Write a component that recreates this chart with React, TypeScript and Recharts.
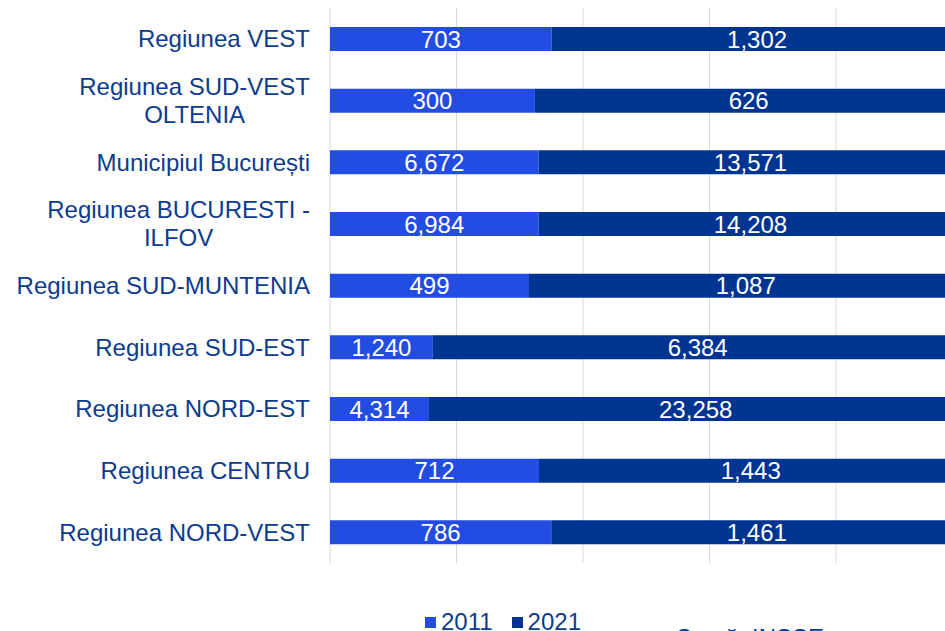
import { Bar, BarChart, CartesianGrid, LabelList, XAxis, YAxis } from "recharts";

const regions = [
  "Regiunea VEST",
  "Regiunea SUD-VEST\nOLTENIA",
  "Municipiul București",
  "Regiunea BUCURESTI -\nILFOV",
  "Regiunea SUD-MUNTENIA",
  "Regiunea SUD-EST",
  "Regiunea NORD-EST",
  "Regiunea CENTRU",
  "Regiunea NORD-VEST",
];
const values2011 = [703, 300, 6672, 6984, 499, 1240, 4314, 712, 786];
const values2021 = [1302, 626, 13571, 14208, 1087, 6384, 23258, 1443, 1461];
const shareTicks = [0, 0.2, 0.4, 0.6, 0.8, 1];

const data = regions.map((name, i) => ({ name, y2011: values2011[i], y2021: values2021[i] }));

const LIGHT = "#234CE2";
const DARK = "#003491";
const TEXT = "#0D3B8E";
const FONT = "'Liberation Sans', Arial, sans-serif";
const FS = 24;

const fmt = (v: any) => Number(v).toLocaleString("en-US");

let ctx: CanvasRenderingContext2D | null = null;
function textWidth(s: string) {
  if (!ctx) ctx = document.createElement("canvas").getContext("2d");
  if (!ctx) return s.length * FS * 0.55;
  ctx.font = `${FS}px ${FONT}`;
  return ctx.measureText(s).width;
}

// multi-line labels: block right-aligned, lines centred within the block
function RegionTick({ x, y, payload }: any) {
  const lines = String(payload.value).split("\n");
  const right = x - 12;
  const lh = 28;
  const start = -((lines.length - 1) * lh) / 2;
  const widest = Math.max(...lines.map(textWidth));
  const mid = right - widest / 2;
  return (
    <text fill={TEXT} fontSize={FS} fontFamily={FONT}>
      {lines.map((l, i) => (
        <tspan
          key={i}
          x={lines.length > 1 ? mid : right}
          y={y + start + i * lh}
          dy="0.36em"
          textAnchor={lines.length > 1 ? "middle" : "end"}
        >
          {l}
        </tspan>
      ))}
    </text>
  );
}

export default function App() {
  return (
    <div style={{ position: "absolute", left: 0, top: 0, width: 945, height: 631, overflow: "hidden", background: "#fff", fontFamily: FONT }}>
      <BarChart
        width={1000}
        height={631}
        data={data}
        layout="vertical"
        stackOffset="expand"
        barSize={24}
        margin={{ top: 8, right: 37.5, bottom: 68, left: 0 }}
      >
        <CartesianGrid horizontal={false} stroke="#d9d9d9" />
        <XAxis type="number" domain={[0, 1]} ticks={shareTicks} hide />
        <YAxis
          type="category"
          dataKey="name"
          width={330}
          axisLine={false}
          tickLine={false}
          tick={<RegionTick />}
          interval={0}
        />
        <Bar dataKey="y2011" stackId="a" fill={LIGHT} isAnimationActive={false}>
          <LabelList dataKey="y2011" position="center" fill="#fff" fontSize={FS} fontFamily={FONT} formatter={fmt} />
        </Bar>
        <Bar dataKey="y2021" stackId="a" fill={DARK} isAnimationActive={false}>
          <LabelList dataKey="y2021" position="center" fill="#fff" fontSize={FS} fontFamily={FONT} formatter={fmt} />
        </Bar>
      </BarChart>

      <div style={{ position: "absolute", top: 610, left: 425, display: "flex", alignItems: "center", fontSize: FS, lineHeight: "24px", color: TEXT }}>
        <span style={{ width: 11, height: 11, background: LIGHT, display: "inline-block", marginRight: 5 }} />
        <span style={{ marginRight: 19 }}>2011</span>
        <span style={{ width: 11, height: 11, background: DARK, display: "inline-block", marginRight: 5 }} />
        <span>2021</span>
      </div>
      <div style={{ position: "absolute", top: 626, left: 676, fontSize: FS, lineHeight: "24px", color: TEXT, whiteSpace: "nowrap" }}>
        Sursă: INSSE
      </div>
    </div>
  );
}
